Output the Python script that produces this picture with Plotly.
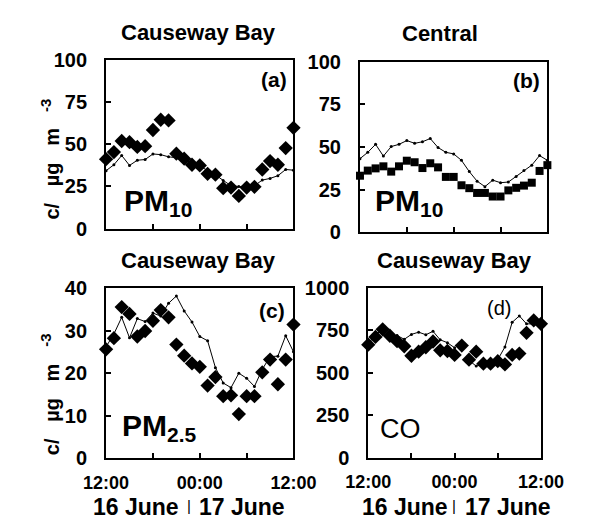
import plotly.graph_objects as go

W, H = 599, 526
hours = list(range(25))

# Panel (a) Causeway Bay PM10
a_meas = [41.1, 45.3, 51.9, 51.2, 48.4, 48.8, 58.4, 64.5, 64.1, 44.4, 41.4, 37.8, 37.4,
          32.4, 31.9, 23.9, 24.3, 19.3, 24.3, 24.7, 35.0, 40.0, 37.8, 47.7, 59.7]
a_model = [34.3, 37.8, 43.3, 37.4, 40.5, 40.9, 44.2, 43.8, 42.5, 42.0, 40.7, 38.9, 37.0,
           34.4, 31.9, 28.5, 25.4, 24.9, 24.5, 25.4, 28.7, 29.7, 31.3, 35.0, 34.6]
# Panel (b) Central PM10
b_meas = [33.2, 36.2, 37.5, 38.7, 35.6, 38.7, 42.0, 41.1, 37.7, 40.5, 38.1, 32.5, 32.5,
          27.6, 25.9, 23.1, 23.1, 21.0, 21.0, 24.6, 26.1, 27.4, 29.1, 36.0, 39.4]
b_model = [43.2, 46.9, 51.6, 44.7, 50.3, 51.6, 53.8, 52.2, 53.1, 55.0, 49.7, 46.9, 46.0,
           42.2, 35.6, 30.0, 26.8, 30.6, 29.1, 29.5, 32.8, 36.2, 39.4, 45.0, 42.2]
# Panel (c) Causeway Bay PM2.5
c_meas = [25.6, 28.2, 35.5, 33.9, 28.6, 29.9, 32.3, 34.8, 33.1, 26.7, 24.1, 22.3, 21.5,
          17.1, 19.1, 14.6, 14.8, 10.4, 14.6, 14.6, 20.2, 23.2, 17.4, 23.2, 31.4]
c_model = [26.2, 29.2, 33.1, 28.3, 32.8, 32.1, 34.1, 33.4, 36.4, 38.1, 34.6, 32.0, 28.6,
           27.6, 21.3, 17.7, 16.6, 20.0, 18.8, 16.9, 20.9, 23.9, 24.0, 28.8, 25.0]
# Panel (d) Causeway Bay CO
d_meas = [665, 711, 756, 718, 686, 656, 600, 624, 650, 684, 632, 628, 605,
          660, 577, 624, 553, 553, 568, 549, 605, 613, 735, 808, 788]
d_model = [665, 735, 739, 697, 720, 697, 726, 739, 724, 744, 694, 677, 647,
           None, 573, 539, 549, 553, 577, 652, 797, 835, 788, 788, 788]

x_tickvals = [0, 6, 12, 18, 24]
x_ticktext = ["12:00", "", "00:00", "", "12:00"]

FONT = "Liberation Sans, Arial, sans-serif"


def px(x):
    return x / W


def py(y):
    return 1 - y / H


# panel boxes in pixels: (left, right, top, bottom)
boxes = {
    "a": (90, 293, 51, 227),
    "b": (365, 568, 53, 231),
    "c": (90, 293, 289, 467),
    "d": (374, 561, 289, 466),
}

panels = [
    ("a", a_meas, a_model, "diamond", 11, [0, 100], 25),
    ("b", b_meas, b_model, "square", 8, [0, 100], 25),
    ("c", c_meas, c_model, "diamond", 11, [0, 40], 10),
    ("d", d_meas, d_model, "diamond", 11, [0, 1000], 250),
]

fig = go.Figure()
layout = dict(
    width=W, height=H, margin=dict(l=0, r=0, t=0, b=0),
    paper_bgcolor="white", plot_bgcolor="white", showlegend=False,
    font=dict(family=FONT, color="black"),
)

for i, (key, meas, model, sym, msize, yr, dt) in enumerate(panels):
    n = "" if i == 0 else str(i + 1)
    l, r, t, b = boxes[key]
    bottom_row = key in ("c", "d")
    layout["xaxis" + n] = dict(
        domain=[px(l), px(r)], anchor="y" + n, range=[0, 24],
        tickvals=x_tickvals, ticktext=x_ticktext, ticks="inside", ticklen=5,
        tickwidth=2, tickcolor="black", showticklabels=bottom_row,
        tickfont=dict(family=FONT, size=18, weight="bold"), ticklabelstandoff=7,
        showline=True, linewidth=2, linecolor="black", mirror=True,
        showgrid=False, zeroline=False,
    )
    layout["yaxis" + n] = dict(
        domain=[py(b), py(t)], anchor="x" + n, range=yr, dtick=dt, tick0=0,
        ticks="inside", ticklen=5, tickwidth=2, tickcolor="black",
        tickfont=dict(family=FONT, size=20, weight="bold"), ticklabelstandoff=13,
        showline=True, linewidth=2, linecolor="black", mirror=True,
        showgrid=False, zeroline=False,
    )
    fig.add_trace(go.Scatter(
        x=hours, y=model, xaxis="x" + n, yaxis="y" + n, mode="lines+markers",
        line=dict(color="black", width=1), marker=dict(size=3, color="black"),
        cliponaxis=False, connectgaps=False,
    ))
    fig.add_trace(go.Scatter(
        x=hours, y=meas, xaxis="x" + n, yaxis="y" + n, mode="markers",
        marker=dict(symbol=sym, size=msize, color="black"), cliponaxis=False,
    ))

fig.update_layout(**layout)

ann = []


def add(text, x, y, size, bold=True, xanchor="center", yanchor="middle", angle=0):
    ann.append(dict(text=text, x=px(x), y=py(y), xref="paper", yref="paper",
                    showarrow=False, xanchor=xanchor, yanchor=yanchor, textangle=angle,
                    font=dict(family=FONT, size=size, color="black",
                              weight="bold" if bold else "normal")))


NB = "\u00a0"
ytitle = "c/" + NB * 3 + "µg" + NB * 3 + "m"

# titles
add("Causeway Bay", 190, 22, 22)
add("Central", 452, 23, 22)
add("Causeway Bay", 190, 260, 22)
add("Causeway Bay", 467, 260, 22)
# y-axis titles (main text + superscript exponent)
add(ytitle, 31, 170, 20, angle=-90)
add("-3", 25, 99, 15, angle=-90)
add(ytitle, 31, 416, 20, angle=-90)
add("-3", 25, 344, 15, angle=-90)
# panel letters
add("(a)", 272, 71, 21)
add("(b)", 545, 73, 21)
add("(c)", 270, 313, 21)
add("(d)", 516, 310, 20, bold=False)
# species labels
add("PM<sub>10</sub>", 107, 221, 30, xanchor="left", yanchor="bottom")
add("PM<sub>10</sub>", 379, 221, 30, xanchor="left", yanchor="bottom")
add("PM<sub>2.5</sub>", 105, 456, 30, xanchor="left", yanchor="bottom")
add("CO", 385, 454, 27, bold=False, xanchor="left", yanchor="bottom")
# date labels: (right edge of "16 June", separator, left edge of "17 June")
for r16, sep, l17 in ((171, 180, 189), (463, 467, 477)):
    add("16 June", r16, 518, 23, xanchor="right")
    add("|", sep, 516, 15, bold=False)
    add("17 June", l17, 518, 23, xanchor="left")

fig.update_layout(annotations=ann)
fig.write_html("out.html")
